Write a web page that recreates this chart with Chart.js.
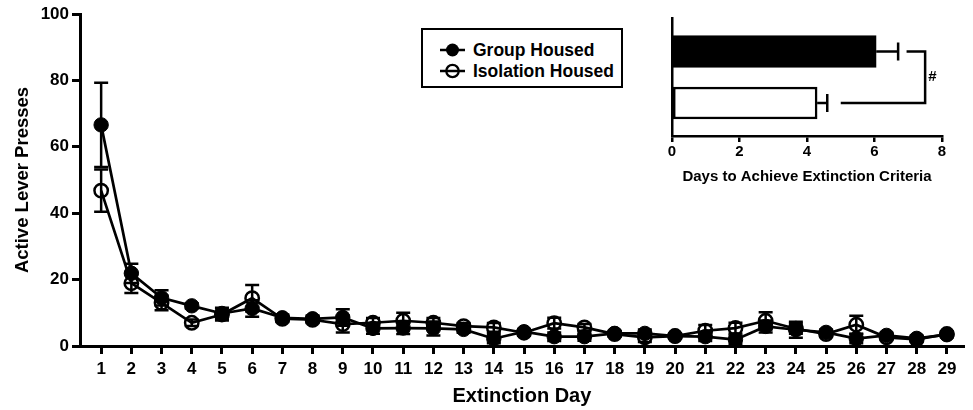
<!DOCTYPE html>
<html>
<head>
<meta charset="utf-8">
<script src="https://cdn.jsdelivr.net/npm/chart.js@4.4.1/dist/chart.umd.min.js"></script>
<style>
  html, body { margin: 0; padding: 0; background: #fff; }
  #wrap { position: relative; width: 973px; height: 410px; font-family: "Liberation Sans", Arial, sans-serif; }
  #main { position: absolute; left: 0; top: 0; }
  #inset { position: absolute; left: 650px; top: 0; }
  #legend { position: absolute; left: 421px; top: 28px; width: 198px; height: 56px; border: 2.5px solid #000; background: #fff; }
  .row { position: absolute; left: 0; height: 20px; display: flex; align-items: center; }
  .row svg { margin-left: 17px; margin-right: 8px; }
  .row span { font-weight: bold; font-size: 17.5px; color: #000; }
</style>
</head>
<body>
<div id="wrap">
  <canvas id="main" width="973" height="410"></canvas>
  <canvas id="inset" width="323" height="190"></canvas>
  <div id="legend">
    <div class="row" style="top:10px">
      <svg width="25" height="16"><line x1="0" y1="8" x2="25" y2="8" stroke="#000" stroke-width="2.5"/><circle cx="12.5" cy="8" r="6.5" fill="#000"/></svg>
      <span>Group Housed</span>
    </div>
    <div class="row" style="top:31px">
      <svg width="25" height="16"><line x1="0" y1="8" x2="25" y2="8" stroke="#000" stroke-width="2.5"/><circle cx="12.5" cy="8" r="6.2" fill="none" stroke="#000" stroke-width="2.3"/></svg>
      <span>Isolation Housed</span>
    </div>
  </div>
</div>
<script>
// Main chart data: active lever presses per extinction day (mean and SEM)
const days = [1, 2, 3, 4, 5, 6, 7, 8, 9, 10, 11, 12, 13, 14, 15, 16, 17, 18, 19, 20, 21, 22, 23, 24, 25, 26, 27, 28, 29];
const groupMean = [66.6, 21.9, 14.5, 12.1, 9.8, 11.3, 8.5, 8.2, 8.6, 5.3, 5.4, 5.3, 5.0, 2.2, 4.3, 2.8, 2.8, 3.8, 3.8, 3.0, 2.8, 1.9, 5.9, 4.9, 4.1, 2.2, 3.2, 2.3, 3.4];
const groupSem = [12.7, 2.9, 2.3, 0.8, 1.7, 2.5, 1.0, 1.0, 2.5, 1.6, 1.8, 2.1, 1.0, 1.4, 0.8, 1.3, 1.2, 0.8, 1.2, 0.8, 1.3, 1.3, 1.8, 2.4, 0.9, 1.4, 0.8, 0.9, 0.8];
const isoMean = [46.8, 18.9, 13.0, 7.0, 9.5, 14.4, 8.2, 7.9, 6.6, 7.0, 7.6, 7.0, 6.0, 5.6, 4.0, 6.9, 5.6, 3.6, 2.6, 3.0, 4.6, 5.4, 7.6, 5.2, 3.6, 6.4, 2.6, 2.0, 3.6];
const isoSem = [6.4, 2.9, 2.2, 1.0, 1.8, 4.0, 1.0, 1.0, 2.5, 1.4, 2.4, 1.4, 0.9, 1.3, 0.9, 1.6, 1.0, 0.8, 1.4, 0.8, 1.7, 1.6, 2.6, 1.5, 0.9, 2.7, 0.8, 0.8, 0.8];
const yTicks = [0, 20, 40, 60, 80, 100];

// Inset data: days to achieve extinction criteria
const insetGroups = ['Group Housed', 'Isolation Housed'];
const insetDays = [6.05, 4.3];
const insetSem = [0.65, 0.3];
const insetTicks = [0, 2, 4, 6, 8];
const bracketX = [6.95, 7.5, 5.0]; // top start, corner, bottom end
const bracketLabel = '#';

const FONT = '"Liberation Sans", Arial, sans-serif';
Chart.defaults.font.family = FONT;
Chart.defaults.color = '#000';

// draws vertical SEM bars under the markers
const errorBars = {
  id: 'errorBars',
  beforeDatasetsDraw(chart) {
    const { ctx, scales: { x, y } } = chart;
    ctx.save();
    ctx.strokeStyle = '#000';
    ctx.lineWidth = 2.5;
    chart.data.datasets.forEach(ds => {
      ds.data.forEach((p, i) => {
        const err = ds.errors[i];
        const px = x.getPixelForValue(p.x);
        const top = y.getPixelForValue(p.y + err);
        const bot = y.getPixelForValue(Math.max(0, p.y - err));
        ctx.beginPath();
        ctx.moveTo(px, top); ctx.lineTo(px, bot);
        ctx.moveTo(px - 7, top); ctx.lineTo(px + 7, top);
        ctx.moveTo(px - 7, bot); ctx.lineTo(px + 7, bot);
        ctx.stroke();
      });
    });
    ctx.restore();
  }
};

new Chart(document.getElementById('main'), {
  type: 'line',
  data: {
    datasets: [
      {
        label: 'Group Housed',
        data: days.map((d, i) => ({ x: d, y: groupMean[i] })),
        errors: groupSem,
        borderColor: '#000',
        borderWidth: 2.7,
        pointRadius: 7.2,
        pointBackgroundColor: '#000',
        pointBorderColor: '#000',
        pointBorderWidth: 1,
        tension: 0
      },
      {
        label: 'Isolation Housed',
        data: days.map((d, i) => ({ x: d, y: isoMean[i] })),
        errors: isoSem,
        borderColor: '#000',
        borderWidth: 2.7,
        pointRadius: 6.7,
        pointBackgroundColor: 'rgba(0,0,0,0)',
        pointBorderColor: '#000',
        pointBorderWidth: 2.5,
        tension: 0
      }
    ]
  },
  options: {
    responsive: false,
    animation: false,
    layout: { padding: { left: 8, top: 14, right: 6, bottom: 2 } },
    plugins: { legend: { display: false }, tooltip: { enabled: false } },
    scales: {
      x: {
        type: 'linear',
        min: 0.3,
        max: 29.56,
        afterBuildTicks: s => { s.ticks = days.map(v => ({ value: v })); },
        afterFit: s => { s.height = 62; },
        border: { display: true, color: '#000', width: 3 },
        grid: { drawOnChartArea: false, drawTicks: true, tickLength: 8, lineWidth: 3, color: '#000' },
        ticks: { font: { size: 17, weight: 'bold' }, padding: 5, maxRotation: 0, autoSkip: false },
        title: { display: true, text: 'Extinction Day', font: { size: 20, weight: 'bold' }, padding: { top: 4, bottom: 0 } }
      },
      y: {
        min: 0,
        max: 100,
        afterBuildTicks: s => { s.ticks = yTicks.map(v => ({ value: v })); },
        afterFit: s => { s.width = 72; },
        border: { display: true, color: '#000', width: 3 },
        grid: { drawOnChartArea: false, drawTicks: true, tickLength: 8, lineWidth: 3, color: '#000' },
        ticks: { font: { size: 17, weight: 'bold' }, padding: 3 },
        title: { display: true, text: 'Active Lever Presses', font: { size: 18.5, weight: 'bold' }, padding: { top: 4, bottom: 0 } }
      }
    }
  },
  plugins: [errorBars]
});

// inset error bars plus the significance bracket
const insetMarks = {
  id: 'insetMarks',
  afterDatasetsDraw(chart) {
    const { ctx, scales: { x, y } } = chart;
    ctx.save();
    ctx.strokeStyle = '#000';
    ctx.lineWidth = 2.5;
    insetDays.forEach((v, i) => {
      const py = y.getPixelForValue(i);
      const x0 = x.getPixelForValue(v);
      const x1 = x.getPixelForValue(v + insetSem[i]);
      ctx.beginPath();
      ctx.moveTo(x0, py); ctx.lineTo(x1, py);
      ctx.moveTo(x1, py - 9); ctx.lineTo(x1, py + 9);
      ctx.stroke();
    });
    const y0 = y.getPixelForValue(0);
    const y1 = y.getPixelForValue(1);
    ctx.beginPath();
    ctx.moveTo(x.getPixelForValue(bracketX[0]), y0);
    ctx.lineTo(x.getPixelForValue(bracketX[1]), y0);
    ctx.lineTo(x.getPixelForValue(bracketX[1]), y1);
    ctx.lineTo(x.getPixelForValue(bracketX[2]), y1);
    ctx.stroke();
    ctx.fillStyle = '#000';
    ctx.font = 'bold 15px ' + FONT;
    ctx.textBaseline = 'middle';
    ctx.fillText(bracketLabel, x.getPixelForValue(bracketX[1]) + 3, (y0 + y1) / 2);
    ctx.restore();
  }
};

new Chart(document.getElementById('inset'), {
  type: 'bar',
  data: {
    datasets: [{
      label: 'Days to Achieve Extinction Criteria',
      data: insetDays.map((v, i) => ({ x: v, y: i })),
      backgroundColor: ['#000', '#fff'],
      borderColor: '#000',
      borderWidth: 2.5,
      borderSkipped: false,
      barThickness: 32
    }]
  },
  options: {
    indexAxis: 'y',
    responsive: false,
    animation: false,
    layout: { padding: { left: 22, top: 18, right: 31, bottom: 4 } },
    plugins: { legend: { display: false }, tooltip: { enabled: false } },
    scales: {
      x: {
        type: 'linear',
        min: 0,
        max: 8,
        afterBuildTicks: s => { s.ticks = insetTicks.map(v => ({ value: v })); },
        afterFit: s => { s.height = 50; },
        border: { display: true, color: '#000', width: 2.5 },
        grid: { drawOnChartArea: false, drawTicks: true, tickLength: 6, lineWidth: 2.5, color: '#000' },
        ticks: { font: { size: 15, weight: 'bold' }, padding: 1, maxRotation: 0 },
        title: { display: true, text: 'Days to Achieve Extinction Criteria', font: { size: 15, weight: 'bold' }, padding: { top: 4, bottom: 0 } }
      },
      y: {
        type: 'linear',
        reverse: true,
        offset: false,
        min: -0.65,
        max: 1.64,
        afterFit: s => { s.width = 0; },
        border: { display: true, color: '#000', width: 2.5 },
        grid: { display: false, offset: false },
        ticks: { display: false }
      }
    }
  },
  plugins: [insetMarks]
});
</script>
</body>
</html>
